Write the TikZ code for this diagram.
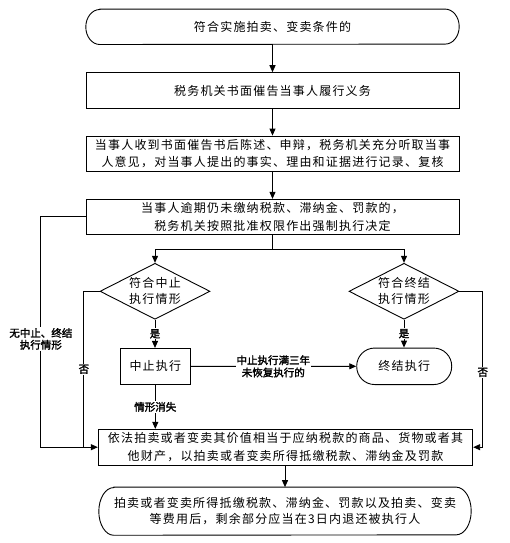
\documentclass[tikz,border=0pt]{standalone}
\usepackage{fontspec}
\setmainfont{Noto Sans CJK SC}[LetterSpace=10,AutoFakeBold=2]
\newfontfamily\lblfam{Noto Sans CJK SC}[AutoFakeBold=2]
\usetikzlibrary{shapes.geometric,arrows.meta}
\newcommand\bodyf{\fontsize{12}{17.4}\selectfont}
\newcommand\diaf{\fontsize{12}{15.8}\selectfont}
\newcommand\termf{\fontsize{12}{15.8}\selectfont}
\newcommand\lblf{\fontsize{10.5}{11.8}\selectfont\lblfam\bfseries}
\begin{document}
\begin{tikzpicture}[x=1pt,y=-1pt,
  ln/.style={line width=0.9pt,black},
  arr/.style={ln,-{Triangle[length=7pt,width=6pt]}},
  box/.style={draw,line width=0.9pt,rectangle,inner sep=0pt,align=center,font=\bodyf},
  term/.style={rectangle,inner sep=0pt,align=center,font=\bodyf},
  dia/.style={draw,line width=0.9pt,diamond,inner sep=0pt,minimum width=110pt,minimum height=56pt},
  lab/.style={fill=white,inner sep=1pt,align=center,font=\lblf}]
\useasboundingbox (0,0) rectangle (510,543);
\node[term,minimum width=373pt,minimum height=35pt] (st) at (272.5,26.8) {符合实施拍卖、变卖条件的};
\node[box,minimum width=373pt,minimum height=35.6pt] (b2) at (272.5,90.5) {税务机关书面催告当事人履行义务};
\node[box,minimum width=373pt,minimum height=35.3pt] (b3) at (272.5,153.7) {当事人收到书面催告书后陈述、申辩，税务机关充分听取当事\\人意见，对当事人提出的事实、理由和证据进行记录、复核};
\node[box,minimum width=373pt,minimum height=35pt] (b4) at (272.5,216.8) {当事人逾期仍未缴纳税款、滞纳金、罚款的，\\税务机关按照批准权限作出强制执行决定};
\node[dia,label={[align=center,font=\diaf]center:符合中止\\执行情形}] (d1) at (155,291.3) {};
\node[dia,label={[align=center,font=\diaf]center:符合终结\\执行情形}] (d2) at (404,291.3) {};
\node[box,minimum width=69.3pt,minimum height=36pt] (zz) at (155.3,366.4) {中止执行};
\node[box,rounded corners=18pt,minimum width=95pt,minimum height=36.5pt] (zj) at (404.2,366.3) {终结执行};
\node[box,font=\fontsize{12}{18}\selectfont,minimum width=374.4pt,minimum height=35.7pt] (b5) at (285.5,447.2) {依法拍卖或者变卖其价值相当于应纳税款的商品、货物或者其\\他财产，以拍卖或者变卖所得抵缴税款、滞纳金及罚款};
\node[term,font=\termf,minimum width=372pt,minimum height=47.7pt] (en) at (285,511.2) {拍卖或者变卖所得抵缴税款、滞纳金、罚款以及拍卖、变卖\\等费用后，剩余部分应当在3日内退还被执行人};
% terminal outlines
\draw[ln] ([xshift=14pt]st.north west) -- ([xshift=-14pt]st.north east) arc[start angle=-90,end angle=90,x radius=14,y radius=17.5] -- ([xshift=14pt]st.south west) arc[start angle=90,end angle=270,x radius=14,y radius=17.5] -- cycle;
\draw[ln] ([xshift=15pt]en.north west) -- ([xshift=-15pt]en.north east) arc[start angle=-90,end angle=90,x radius=15,y radius=23.85] -- ([xshift=15pt]en.south west) arc[start angle=90,end angle=270,x radius=15,y radius=23.85] -- cycle;
% connectors
\draw[arr] (st.south) -- (b2.north);
\draw[arr] (b2.south) -- (b3.north);
\draw[arr] (b3.south) -- (b4.north);
\coordinate (br) at ([yshift=-14.5pt]b4.south);
\draw[ln] (b4.south) -- (br);
\draw[arr] (br) -| (d1.north);
\draw[arr] (br) -| (d2.north);
\draw[arr] (d1.south) -- node[lab] (y1) {是} (d1.south |- zz.north);
\draw[arr] (d2.south) -- node[lab] (y2) {是} (d2.south |- zj.north);
\draw[arr] (zz.east) -- node[lab,font=\fontsize{10.5}{12.3}\selectfont\lblfam\bfseries] (mz) {中止执行满三年\\未恢复执行的} (zj.west);
\draw[arr] (zz.south) -- node[lab] (xs) {情形消失} (zz.south |- b5.north);
\draw[arr] (b4.west) -- ++(-44.7,0) -- node[lab,pos=0.53] (wz) {无中止、终结\\执行情形} ++(0,230.4) -- (b5.west);
\draw[ln] (d1.west) -- ++(-15.7,0) -- node[lab] (n1) {否} ++(0,155.9);
\draw[arr] (d2.east) -- ++(23.3,0) -- node[lab,pos=0.52] (n2) {否} ++(0,155.9) -- (b5.east);
\draw[arr] (b5.south) -- (b5.south -| en.north) -- (en.north);
\end{tikzpicture}
\end{document}
